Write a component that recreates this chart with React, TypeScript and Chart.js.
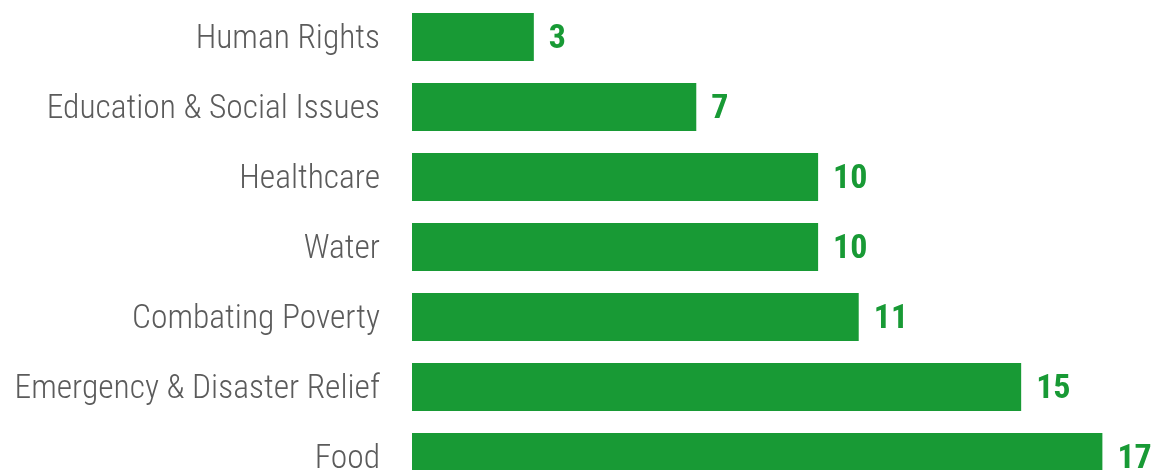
import React, { useEffect, useRef } from "react";
import { Chart, registerables } from "chart.js";

Chart.register(...registerables);

const categories = [
  "Human Rights",
  "Education & Social Issues",
  "Healthcare",
  "Water",
  "Combating Poverty",
  "Emergency & Disaster Relief",
  "Food",
];
const values = [3, 7, 10, 10, 11, 15, 17];

const GREEN = "#189a35";
const LABEL_GRAY = "#5b5b5b";
const FONT = "Roboto, sans-serif";

const valueLabels = {
  id: "valueLabels",
  afterDatasetsDraw(chart: any) {
    const ctx = chart.ctx;
    const meta = chart.getDatasetMeta(0);
    ctx.save();
    ctx.fillStyle = GREEN;
    ctx.font = `bold condensed 34px ${FONT}`;
    ctx.textAlign = "left";
    ctx.textBaseline = "middle";
    meta.data.forEach((bar: any, i: number) => {
      ctx.fillText(String(values[i]), bar.x + 15, bar.y + 2);
    });
    ctx.restore();
  },
};

export default function App() {
  const ref = useRef<HTMLCanvasElement>(null);
  useEffect(() => {
    if (!ref.current) return;
    const chart = new Chart(ref.current, {
      type: "bar",
      data: {
        labels: categories,
        datasets: [
          {
            data: values,
            backgroundColor: GREEN,
            borderWidth: 0,
            categoryPercentage: 1,
            barPercentage: 0.686,
          },
        ],
      },
      options: {
        indexAxis: "y",
        animation: false,
        responsive: false,
        maintainAspectRatio: false,
        layout: { padding: { top: 2, bottom: 2, left: 0, right: 13 } },
        plugins: {
          legend: { display: false },
          tooltip: { enabled: false },
        },
        scales: {
          x: { display: false, min: 0, max: 18 },
          y: {
            grid: { display: false, drawTicks: false },
            border: { display: false },
            afterFit(scale: any) {
              scale.width = 412;
              scale.paddingTop = 0;
              scale.paddingBottom = 0;
            },
            ticks: {
              padding: 32,
              labelOffset: 3,
              color: LABEL_GRAY,
              font: { family: FONT, size: 33.5, weight: "300 condensed" as any },
            },
          },
        },
      },
      plugins: [valueLabels],
    });
    return () => chart.destroy();
  }, []);
  return (
    <div
      style={{
        position: "fixed",
        left: 0,
        top: 0,
        width: 1156,
        height: 470,
        overflow: "hidden",
        background: "#fff",
      }}
    >
      <canvas ref={ref} width={1156} height={494} style={{ display: "block" }} />
    </div>
  );
}
